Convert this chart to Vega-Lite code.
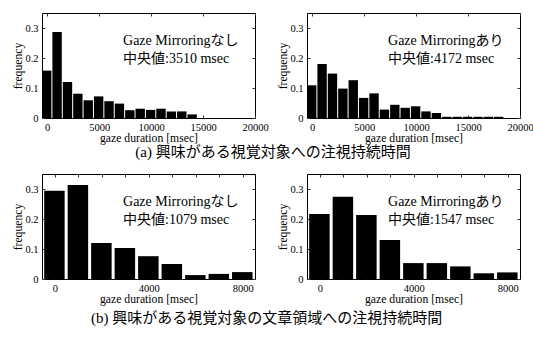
{
  "$schema": "https://vega.github.io/schema/vega-lite/v6.json",
  "padding": {"left": 12, "top": 12, "right": 2, "bottom": 2},
  "background": "white",
  "config": {
    "font": "Liberation Serif, Noto Sans CJK JP",
    "view": {"stroke": "black", "strokeWidth": 1},
    "axis": {"domain": false, "grid": false, "tickColor": "#333", "tickSize": -3, "tickWidth": 1, "labelPadding": 7, "labelFont": "Liberation Serif", "labelFontSize": 10.5, "labelColor": "black", "titleFont": "Liberation Serif", "titleFontSize": 11.7, "titleFontWeight": "normal", "titleColor": "black", "labelFlush": false, "labelOverlap": false},
    "axisX": {"titlePadding": 0},
    "axisY": {"titlePadding": 1},
    "text": {"font": "Liberation Serif, Noto Sans CJK JP", "fontSize": 14, "align": "left", "baseline": "top", "lineHeight": 18, "color": "black"},
    "title": {"font": "Liberation Serif, Noto Sans CJK JP", "fontSize": 15, "fontWeight": "normal", "color": "black"}
  },
  "datasets": {
    "p1": [
      {"start": -500, "end": 500, "frequency": 0.158}, {"start": 500, "end": 1500, "frequency": 0.287},
      {"start": 1500, "end": 2500, "frequency": 0.12}, {"start": 2500, "end": 3500, "frequency": 0.081},
      {"start": 3500, "end": 4500, "frequency": 0.059}, {"start": 4500, "end": 5500, "frequency": 0.072},
      {"start": 5500, "end": 6500, "frequency": 0.056}, {"start": 6500, "end": 7500, "frequency": 0.048},
      {"start": 7500, "end": 8500, "frequency": 0.026}, {"start": 8500, "end": 9500, "frequency": 0.031},
      {"start": 9500, "end": 10500, "frequency": 0.027}, {"start": 10500, "end": 11500, "frequency": 0.031},
      {"start": 11500, "end": 12500, "frequency": 0.022}, {"start": 12500, "end": 13500, "frequency": 0.022},
      {"start": 13500, "end": 14500, "frequency": 0.012}
    ],
    "p2": [
      {"start": -500, "end": 500, "frequency": 0.109}, {"start": 500, "end": 1500, "frequency": 0.18},
      {"start": 1500, "end": 2500, "frequency": 0.148}, {"start": 2500, "end": 3500, "frequency": 0.098},
      {"start": 3500, "end": 4500, "frequency": 0.126}, {"start": 4500, "end": 5500, "frequency": 0.067},
      {"start": 5500, "end": 6500, "frequency": 0.082}, {"start": 6500, "end": 7500, "frequency": 0.028},
      {"start": 7500, "end": 8500, "frequency": 0.044}, {"start": 8500, "end": 9500, "frequency": 0.034},
      {"start": 9500, "end": 10500, "frequency": 0.039}, {"start": 10500, "end": 11500, "frequency": 0.022},
      {"start": 11500, "end": 12500, "frequency": 0.017}, {"start": 12500, "end": 13500, "frequency": 0.004},
      {"start": 13500, "end": 14500, "frequency": 0.004}, {"start": 14500, "end": 15500, "frequency": 0.004},
      {"start": 15500, "end": 16500, "frequency": 0.004}, {"start": 16500, "end": 17500, "frequency": 0.004},
      {"start": 17500, "end": 18500, "frequency": 0.004}
    ],
    "p3": [
      {"start": -500, "end": 500, "frequency": 0.294}, {"start": 500, "end": 1500, "frequency": 0.313},
      {"start": 1500, "end": 2500, "frequency": 0.12}, {"start": 2500, "end": 3500, "frequency": 0.103},
      {"start": 3500, "end": 4500, "frequency": 0.076}, {"start": 4500, "end": 5500, "frequency": 0.05},
      {"start": 5500, "end": 6500, "frequency": 0.013}, {"start": 6500, "end": 7500, "frequency": 0.017},
      {"start": 7500, "end": 8500, "frequency": 0.023}
    ],
    "p4": [
      {"start": -500, "end": 500, "frequency": 0.217}, {"start": 500, "end": 1500, "frequency": 0.274},
      {"start": 1500, "end": 2500, "frequency": 0.213}, {"start": 2500, "end": 3500, "frequency": 0.13},
      {"start": 3500, "end": 4500, "frequency": 0.053}, {"start": 4500, "end": 5500, "frequency": 0.053},
      {"start": 5500, "end": 6500, "frequency": 0.042}, {"start": 6500, "end": 7500, "frequency": 0.019},
      {"start": 7500, "end": 8500, "frequency": 0.022}
    ]
  },
  "spacing": 13,
  "vconcat": [
    {
      "bounds": "flush",
      "spacing": 52,
      "title": {"text": "(a) 興味がある視覚対象への注視持続時間", "orient": "bottom", "anchor": "middle", "offset": 0},
      "hconcat": [
        {
          "width": 213, "height": 105,
          "resolve": {"axis": {"x": "independent", "y": "independent"}},
          "layer": [
            {
              "data": {"name": "p1"},
              "mark": {"type": "bar", "color": "black", "x2Offset": -1},
              "encoding": {
                "x": {"field": "start", "type": "quantitative", "scale": {"domain": [-500, 20000], "nice": false, "zero": false}, "axis": {"title": "gaze duration [msec]", "values": [0, 5000, 10000, 15000, 20000], "format": "d"}},
                "x2": {"field": "end"},
                "y": {"field": "frequency", "type": "quantitative", "scale": {"domain": [0, 0.35], "nice": false}, "axis": {"title": "frequency", "values": [0, 0.1, 0.2, 0.3], "format": ".1~f"}},
                "y2": {"datum": 0}
              }
            },
            {
              "data": {"values": [{"label": ["Gaze Mirroringなし", "中央値:3510 msec"]}]},
              "mark": {"type": "text"},
              "encoding": {
                "x": {"datum": 7300, "type": "quantitative", "axis": {"orient": "top", "labels": false, "title": null, "values": [0, 5000, 10000, 15000, 20000]}},
                "y": {"datum": 0.279, "type": "quantitative", "axis": {"orient": "right", "labels": false, "title": null, "values": [0, 0.1, 0.2, 0.3]}},
                "text": {"field": "label", "type": "nominal"}
              }
            }
          ]
        },
        {
          "width": 213, "height": 105,
          "resolve": {"axis": {"x": "independent", "y": "independent"}},
          "layer": [
            {
              "data": {"name": "p2"},
              "mark": {"type": "bar", "color": "black", "x2Offset": -1},
              "encoding": {
                "x": {"field": "start", "type": "quantitative", "scale": {"domain": [-500, 20000], "nice": false, "zero": false}, "axis": {"title": "gaze duration [msec]", "values": [0, 5000, 10000, 15000, 20000], "format": "d"}},
                "x2": {"field": "end"},
                "y": {"field": "frequency", "type": "quantitative", "scale": {"domain": [0, 0.35], "nice": false}, "axis": {"title": "frequency", "values": [0, 0.1, 0.2, 0.3], "format": ".1~f"}},
                "y2": {"datum": 0}
              }
            },
            {
              "data": {"values": [{"label": ["Gaze Mirroringあり", "中央値:4172 msec"]}]},
              "mark": {"type": "text"},
              "encoding": {
                "x": {"datum": 7300, "type": "quantitative", "axis": {"orient": "top", "labels": false, "title": null, "values": [0, 5000, 10000, 15000, 20000]}},
                "y": {"datum": 0.279, "type": "quantitative", "axis": {"orient": "right", "labels": false, "title": null, "values": [0, 0.1, 0.2, 0.3]}},
                "text": {"field": "label", "type": "nominal"}
              }
            }
          ]
        }
      ]
    },
    {
      "bounds": "flush",
      "spacing": 52,
      "title": {"text": "(b) 興味がある視覚対象の文章領域への注視持続時間", "orient": "bottom", "anchor": "middle", "offset": 5},
      "hconcat": [
        {
          "width": 213, "height": 105,
          "resolve": {"axis": {"x": "independent", "y": "independent"}},
          "layer": [
            {
              "data": {"name": "p3"},
              "mark": {"type": "bar", "color": "black", "xOffset": 1, "x2Offset": -2},
              "encoding": {
                "x": {"field": "start", "type": "quantitative", "scale": {"domain": [-550, 8520], "nice": false, "zero": false}, "axis": {"title": "gaze duration [msec]", "values": [0, 1000, 2000, 3000, 4000, 5000, 6000, 7000, 8000], "format": "d", "labelExpr": "datum.value % 4000 === 0 ? datum.label : ''"}},
                "x2": {"field": "end"},
                "y": {"field": "frequency", "type": "quantitative", "scale": {"domain": [0, 0.35], "nice": false}, "axis": {"title": "frequency", "values": [0, 0.1, 0.2, 0.3], "format": ".1~f"}},
                "y2": {"datum": 0}
              }
            },
            {
              "data": {"values": [{"label": ["Gaze Mirroringなし", "中央値:1079 msec"]}]},
              "mark": {"type": "text"},
              "encoding": {
                "x": {"datum": 2900, "type": "quantitative", "axis": {"orient": "top", "labels": false, "title": null, "values": [0, 1000, 2000, 3000, 4000, 5000, 6000, 7000, 8000]}},
                "y": {"datum": 0.279, "type": "quantitative", "axis": {"orient": "right", "labels": false, "title": null, "values": [0, 0.1, 0.2, 0.3]}},
                "text": {"field": "label", "type": "nominal"}
              }
            }
          ]
        },
        {
          "width": 213, "height": 105,
          "resolve": {"axis": {"x": "independent", "y": "independent"}},
          "layer": [
            {
              "data": {"name": "p4"},
              "mark": {"type": "bar", "color": "black", "xOffset": 1, "x2Offset": -2},
              "encoding": {
                "x": {"field": "start", "type": "quantitative", "scale": {"domain": [-550, 8520], "nice": false, "zero": false}, "axis": {"title": "gaze duration [msec]", "values": [0, 1000, 2000, 3000, 4000, 5000, 6000, 7000, 8000], "format": "d", "labelExpr": "datum.value % 4000 === 0 ? datum.label : ''"}},
                "x2": {"field": "end"},
                "y": {"field": "frequency", "type": "quantitative", "scale": {"domain": [0, 0.35], "nice": false}, "axis": {"title": "frequency", "values": [0, 0.1, 0.2, 0.3], "format": ".1~f"}},
                "y2": {"datum": 0}
              }
            },
            {
              "data": {"values": [{"label": ["Gaze Mirroringあり", "中央値:1547 msec"]}]},
              "mark": {"type": "text"},
              "encoding": {
                "x": {"datum": 2900, "type": "quantitative", "axis": {"orient": "top", "labels": false, "title": null, "values": [0, 1000, 2000, 3000, 4000, 5000, 6000, 7000, 8000]}},
                "y": {"datum": 0.279, "type": "quantitative", "axis": {"orient": "right", "labels": false, "title": null, "values": [0, 0.1, 0.2, 0.3]}},
                "text": {"field": "label", "type": "nominal"}
              }
            }
          ]
        }
      ]
    }
  ]
}
